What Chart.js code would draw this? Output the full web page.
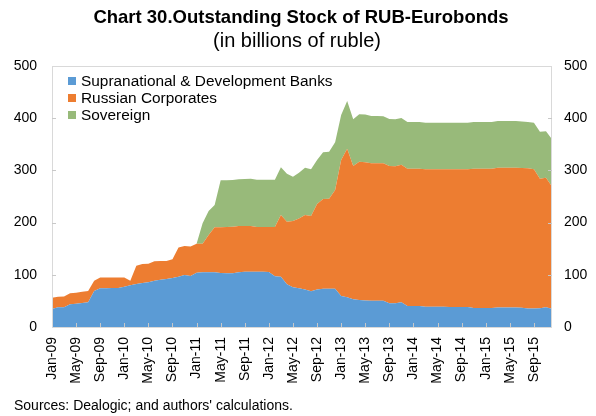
<!DOCTYPE html>
<html lang="en">
<head>
  <meta charset="UTF-8">
  <title>Outstanding Stock of RUB-Eurobonds</title>
  <style>
    body { margin: 0; background: #ffffff; }
    #wrap { width: 596px; height: 416px; }
  </style>
</head>
<body>
  <div id="wrap">
    <canvas id="myChart" width="596" height="416"></canvas>
  </div>

  <script src="https://cdn.jsdelivr.net/npm/chart.js"></script>
  <script>
    // monthly, Jan-09 .. Dec-15
    const months = [
      'Jan-09','Feb-09','Mar-09','Apr-09','May-09','Jun-09','Jul-09','Aug-09','Sep-09','Oct-09','Nov-09','Dec-09',
      'Jan-10','Feb-10','Mar-10','Apr-10','May-10','Jun-10','Jul-10','Aug-10','Sep-10','Oct-10','Nov-10','Dec-10',
      'Jan-11','Feb-11','Mar-11','Apr-11','May-11','Jun-11','Jul-11','Aug-11','Sep-11','Oct-11','Nov-11','Dec-11',
      'Jan-12','Feb-12','Mar-12','Apr-12','May-12','Jun-12','Jul-12','Aug-12','Sep-12','Oct-12','Nov-12','Dec-12',
      'Jan-13','Feb-13','Mar-13','Apr-13','May-13','Jun-13','Jul-13','Aug-13','Sep-13','Oct-13','Nov-13','Dec-13',
      'Jan-14','Feb-14','Mar-14','Apr-14','May-14','Jun-14','Jul-14','Aug-14','Sep-14','Oct-14','Nov-14','Dec-14',
      'Jan-15','Feb-15','Mar-15','Apr-15','May-15','Jun-15','Jul-15','Aug-15','Sep-15','Oct-15','Nov-15','Dec-15'
    ];

    const supranational = [
      34.5, 37.7, 37.7, 43.4, 44.7, 46, 47.3, 69, 74, 74, 74.7, 74.7,
      77.2, 80, 82.4, 84.3, 85.6, 88.7, 90.6, 92, 93.9, 96.4, 99.6, 97.7,
      104, 104.7, 104.7, 104.7, 103.4, 102.8, 102.8, 104.7, 106, 106, 106, 106,
      105.3, 97, 96.4, 81.7, 76, 74, 72, 68.3, 72, 73.4, 73.4, 73.4,
      59.4, 56.9, 53, 51.7, 51, 50.5, 50.5, 50.5, 45.4, 45.4, 47.3, 40.2,
      40, 40, 39, 39, 39, 39, 38.5, 38.5, 38.5, 38.5, 36.2, 36.2,
      36.2, 36.5, 37.5, 37.5, 37.5, 37.2, 36.9, 35.6, 35.6, 36, 38, 35
    ];

    const corporates = [
      21.5, 20.3, 20.8, 21.1, 21.1, 21.7, 21.7, 19.7, 21, 21, 20.3, 20.3,
      17.8, 8.7, 35.1, 36.4, 35.7, 37.1, 35.8, 34.4, 36.1, 56.1, 55.4, 56.3,
      55.6, 54.9, 71.5, 86.3, 87.6, 88.8, 89.2, 88.8, 87.5, 87.5, 85.6, 85.6,
      86.3, 94.6, 118.2, 120.1, 127, 134, 142.6, 144.3, 163.6, 171.8, 172.4, 189.1,
      260.6, 284.7, 255.4, 265, 264.5, 263, 263, 263, 263, 262.6, 263.7, 263.1,
      263, 263, 263, 263, 263, 263, 263.5, 263.5, 263.5, 263.5, 266.8, 266.8,
      266.8, 266.5, 267.5, 267.5, 267.5, 267.8, 267.6, 268.4, 266.4, 248, 248, 234
    ];

    const sovereign = [
      0, 0, 0, 0, 0, 0, 0, 0, 0, 0, 0, 0,
      0, 0, 0, 0, 0, 0, 0, 0, 0, 0, 0, 0,
      0, 39, 46, 42.7, 90, 89.4, 89.6, 89.5, 90, 90.5, 90.4, 90.4,
      90.4, 90.4, 91.4, 92, 85, 87.6, 90.4, 89.4, 84.4, 89.8, 89.8, 91.3,
      86, 91.4, 89.4, 90.7, 91.5, 90.5, 90.5, 90, 90.1, 90, 89.4, 89.4,
      89.5, 89.5, 89.5, 89.5, 89.5, 89.5, 89.5, 89.5, 89.5, 89.5, 89.8, 89.8,
      89.8, 89.8, 89.5, 89.5, 89.5, 89.5, 89.4, 88.7, 89.4, 90, 89, 90.5
    ];

    const yTicks = [0, 100, 200, 300, 400, 500];

    const FONT = '"Liberation Sans", Arial, sans-serif';
    Chart.defaults.font.family = FONT;
    Chart.defaults.color = '#000000';

    // frame, inner tick marks, legend, titles, source note
    const decor = {
      id: 'decor',
      afterDraw(chart) {
        const ctx = chart.ctx;
        const a = chart.chartArea;
        const sx = chart.scales.x;
        const sy = chart.scales.y;
        ctx.save();

        ctx.strokeStyle = '#D9D9D9';
        ctx.lineWidth = 1;
        ctx.strokeRect(a.left + 0.5, a.top + 0.5, a.right - a.left - 1, a.bottom - a.top);

        ctx.strokeStyle = '#C8C8C8';
        ctx.beginPath();
        months.forEach((m, i) => {
          if (i % 4 === 0 && i > 0) {
            const x = Math.round(sx.getPixelForValue(i)) + 0.5;
            ctx.moveTo(x, a.bottom);
            ctx.lineTo(x, a.bottom - 4);
          }
        });
        yTicks.forEach(v => {
          if (v === 0 || v === 500) return;
          const y = Math.round(sy.getPixelForValue(v)) + 0.5;
          ctx.moveTo(a.left, y);
          ctx.lineTo(a.left + 4, y);
          ctx.moveTo(a.right, y);
          ctx.lineTo(a.right - 4, y);
        });
        ctx.stroke();

        // legend inside plot
        ctx.font = '15.4px ' + FONT;
        ctx.textBaseline = 'middle';
        ctx.textAlign = 'left';
        chart.data.datasets.forEach((ds, i) => {
          const y = 81 + i * 17;
          ctx.fillStyle = ds.backgroundColor;
          ctx.fillRect(68, y - 4, 8, 8);
          ctx.fillStyle = '#000000';
          ctx.fillText(ds.label, 81, y + 0.5);
        });

        // titles
        ctx.textAlign = 'center';
        ctx.font = 'bold 18.5px ' + FONT;
        ctx.fillText('Chart 30.Outstanding Stock of RUB-Eurobonds', 301, 18);
        ctx.font = '20px ' + FONT;
        ctx.fillText('(in billions of ruble)', 297, 41);

        ctx.textAlign = 'left';
        ctx.font = '14px ' + FONT;
        ctx.fillText("Sources: Dealogic; and authors' calculations.", 14, 406);

        ctx.restore();
      }
    };

    const ctx = document.getElementById('myChart').getContext('2d');
    new Chart(ctx, {
      type: 'line',
      data: {
        labels: months,
        datasets: [
          {
            label: 'Supranational & Development Banks',
            data: supranational,
            backgroundColor: '#5B9BD5',
            borderWidth: 0,
            pointRadius: 0,
            fill: 'origin'
          },
          {
            label: 'Russian Corporates',
            data: corporates,
            backgroundColor: '#ED7D31',
            borderWidth: 0,
            pointRadius: 0,
            fill: '-1'
          },
          {
            label: 'Sovereign',
            data: sovereign,
            backgroundColor: '#98BA7A',
            borderWidth: 0,
            pointRadius: 0,
            fill: '-1'
          }
        ]
      },
      options: {
        responsive: false,
        animation: false,
        events: [],
        layout: { padding: { top: 66, left: 0, right: 0, bottom: 0 } },
        plugins: {
          legend: { display: false },
          tooltip: { enabled: false }
        },
        elements: { line: { tension: 0 } },
        scales: {
          x: {
            offset: false,
            grid: { display: false, drawTicks: false },
            border: { display: false },
            ticks: {
              autoSkip: false,
              maxRotation: 90,
              minRotation: 90,
              padding: 10,
              font: { size: 14 },
              callback: (v, i) => (i % 4 === 0 ? months[i] : '')
            },
            afterFit: s => { s.height = 89; }
          },
          y: {
            stacked: true,
            position: 'left',
            min: 0,
            max: 500,
            grid: { display: false, drawTicks: false },
            border: { display: false },
            ticks: { stepSize: 100, padding: 15, font: { size: 14 } },
            afterFit: s => { s.width = 52; }
          },
          y1: {
            display: true,
            position: 'right',
            min: 0,
            max: 500,
            grid: { display: false, drawTicks: false },
            border: { display: false },
            ticks: { stepSize: 100, padding: 12, font: { size: 14 } },
            afterFit: s => { s.width = 44; }
          }
        }
      },
      plugins: [decor]
    });
  </script>
</body>
</html>
